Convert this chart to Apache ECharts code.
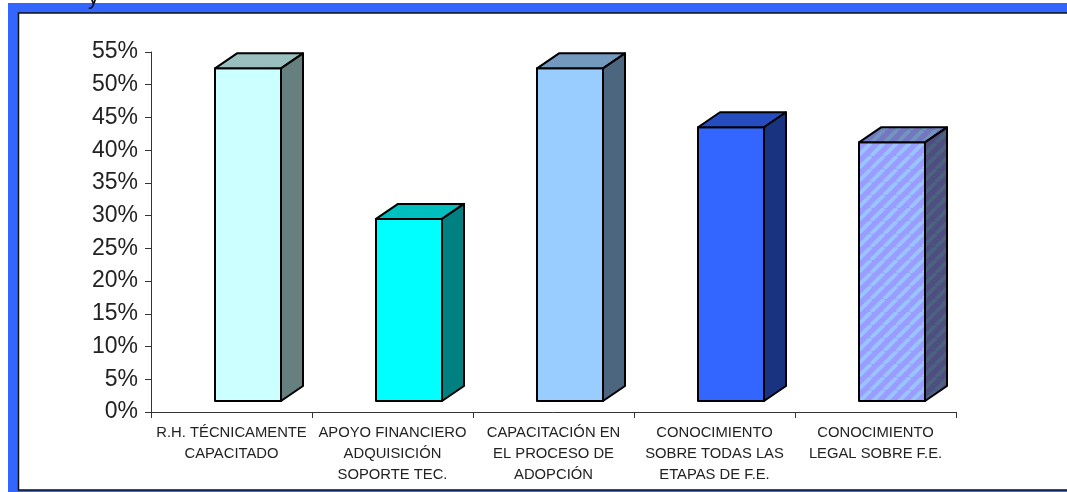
<!DOCTYPE html>
<html><head><meta charset="utf-8">
<style>html,body{margin:0;padding:0;background:#fff}#c{width:1067px;height:492px}</style>
<script src="https://cdn.jsdelivr.net/npm/echarts@6/dist/echarts.min.js"></script>
</head><body><div id="c"></div>
<script>
const categories = ['R.H. TÉCNICAMENTE\nCAPACITADO','APOYO FINANCIERO\nADQUISICIÓN\nSOPORTE TEC.','CAPACITACIÓN EN\nEL PROCESO DE\nADOPCIÓN','CONOCIMIENTO\nSOBRE TODAS LAS\nETAPAS DE F.E.','CONOCIMIENTO\nLEGAL SOBRE F.E.'];
const values = [52.5, 29.5, 52.5, 43.5, 41.2];
const frontColors = ['#ccffff','#00ffff','#99ccff','#3366ff','hatch'];
const topColors = ['#99c0bf','#00bfbf','#7399bf','#264dbf','hatchTop'];
const sideColors = ['#668080','#008080','#4d6680','#1a3380','hatchSide'];

function stripes(a, b){
  const s = 13, cv = document.createElement('canvas');
  cv.width = s; cv.height = s;
  const x = cv.getContext('2d');
  x.fillStyle = a; x.fillRect(0,0,s,s);
  x.strokeStyle = b; x.lineWidth = 4;
  for (let i=-s;i<=2*s;i+=s){ x.beginPath(); x.moveTo(i,s); x.lineTo(i+s,0); x.stroke(); }
  return {image: cv, repeat: 'repeat'};
}
const patterns = {
  hatch: stripes('#9a9cff','#99c4ff'),
  hatchTop: stripes('#7377bf','#7394bf'),
  hatchSide: stripes('#4d4f80','#4d6280')
};
const paint = c => patterns[c] || c;

const chart = echarts.init(document.getElementById('c'), null, {renderer:'canvas'});
const BAR_W = 66, DX = 22, DY = 15, SHIFT = 16.5, FLOOR = 11;
chart.setOption({
  animation:false,
  backgroundColor:'#fff',
  graphic:[
    {type:'rect',z:-10,silent:true,shape:{x:8,y:3,width:1059,height:489},style:{fill:'#3366ff'}},
    {type:'rect',z:-9,silent:true,shape:{x:18.5,y:13,width:1060,height:477},style:{fill:'#fff',stroke:'#111',lineWidth:1.5}},
    {type:'text',z:-8,silent:true,x:88,y:-13,style:{text:'y',font:'22px "Liberation Sans"',fill:'#111'}}
  ],
  grid:{left:151,right:111,top:52,bottom:80,containLabel:false},
  xAxis:{type:'category',data:categories,
    axisLine:{lineStyle:{color:'#333',width:1}},
    axisTick:{show:true,length:6,alignWithLabel:false,lineStyle:{color:'#333',width:1}},
    axisLabel:{interval:0,fontFamily:'Liberation Sans',fontSize:14.8,lineHeight:21,color:'#222',margin:10}},
  yAxis:{type:'value',min:0,max:55,interval:5,
    splitLine:{show:false},
    axisLine:{show:true,lineStyle:{color:'#333',width:1}},
    axisTick:{show:true,length:6,lineStyle:{color:'#333',width:1}},
    axisLabel:{formatter:'{value}%',fontFamily:'Liberation Sans',fontSize:23,lineHeight:25,color:'#222',margin:13,padding:[3,0,0,0]}},
  series:[{
    type:'custom',
    data:values.map((v,i)=>[i,v]),
    encode:{x:0,y:1},
    renderItem(params,api){
      const i = api.value(0), top = api.coord([i,api.value(1)]), base = api.coord([i,0]);
      const x0 = top[0]+SHIFT-BAR_W/2, x1 = x0+BAR_W, yt = top[1], yb = base[1]-FLOOR;
      const line = {stroke:'#000',lineWidth:2,lineJoin:'round'};
      return {type:'group',children:[
        {type:'rect',shape:{x:x0,y:yt,width:BAR_W,height:yb-yt},style:{fill:paint(frontColors[i]),...line}},
        {type:'polygon',shape:{points:[[x0,yt],[x0+DX,yt-DY],[x1+DX,yt-DY],[x1,yt]]},style:{fill:paint(topColors[i]),...line}},
        {type:'polygon',shape:{points:[[x1,yt],[x1+DX,yt-DY],[x1+DX,yb-DY],[x1,yb]]},style:{fill:paint(sideColors[i]),...line}}
      ]};
    }
  }]
});
</script></body></html>
